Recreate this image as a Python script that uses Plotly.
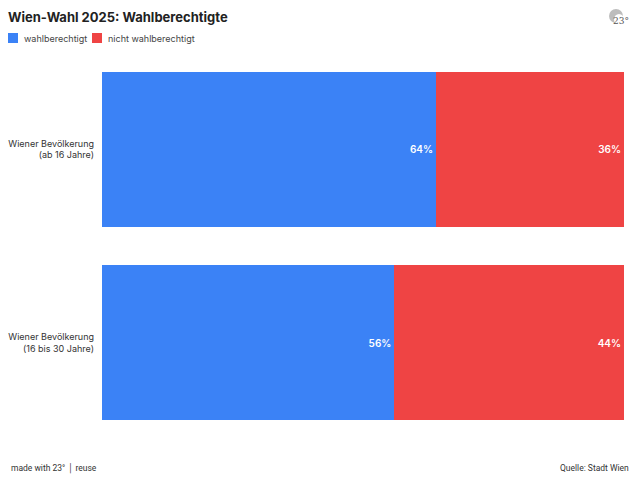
import plotly.graph_objects as go

categories = ["Wiener Bevölkerung<br>(ab 16 Jahre)", "Wiener Bevölkerung<br>(16 bis 30 Jahre)"]
series_names = ["wahlberechtigt", "nicht wahlberechtigt"]
wahlberechtigt = [64, 56]
nicht_wahlberechtigt = [36, 44]
colors = ["#3b82f6", "#ef4444"]

W, H = 640, 480
L, R, T, B = 102, 16, 72, 60
PW, PH = W - L - R, H - T - B

def px(x):
    return (x - L) / PW

def py(y):
    return 1 - (y - T) / PH

def tf():
    return dict(color="white", size=10, family="Inter", weight=600)

fig = go.Figure()
for name, vals, col in zip(series_names, [wahlberechtigt, nicht_wahlberechtigt], colors):
    fig.add_trace(go.Bar(
        y=categories, x=vals, orientation="h", name=name,
        marker=dict(color=col, line=dict(width=0)),
        text=[f"{v}%" for v in vals], textposition="inside", insidetextanchor="end",
        textfont=tf(), hoverinfo="skip", showlegend=False,
    ))

# legend drawn manually (squares + labels)
shapes = []
annotations = []
legend_items = [(8, 22), (92, 106)]
for (sq_x, tx_x), name, col in zip(legend_items, series_names, colors):
    shapes.append(dict(type="rect", xref="paper", yref="paper",
                       x0=px(sq_x), x1=px(sq_x + 10), y0=py(43), y1=py(33),
                       fillcolor=col, line=dict(width=0)))
    annotations.append(dict(text=name, xref="paper", yref="paper", x=px(tx_x), y=py(38.5),
                            xanchor="left", yanchor="middle", showarrow=False,
                            font=dict(size=9, color="#444444", family="Inter")))

# logo approximation
shapes.append(dict(type="circle", xref="paper", yref="paper",
                   x0=px(609), x1=px(623), y0=py(23), y1=py(9),
                   fillcolor="#bdbdbd", line=dict(width=0)))
shapes.append(dict(type="circle", xref="paper", yref="paper",
                   x0=px(614), x1=px(624), y0=py(25), y1=py(14),
                   fillcolor="white", line=dict(width=0)))
annotations.append(dict(text="23°", xref="paper", yref="paper", x=px(631), y=py(21),
                        xanchor="right", yanchor="middle", showarrow=False,
                        font=dict(size=9, color="#555555", family="DejaVu Serif")))

annotations.append(dict(text="made with 23° │ reuse", xref="paper", yref="paper", x=px(9), y=py(468),
                        xanchor="left", yanchor="middle", showarrow=False,
                        font=dict(size=8.5, color="#333333", family="Roboto")))
annotations.append(dict(text="Quelle: Stadt Wien", xref="paper", yref="paper", x=px(631), y=py(468),
                        xanchor="right", yanchor="middle", showarrow=False,
                        font=dict(size=8.5, color="#333333", family="Roboto")))

fig.update_layout(
    width=W, height=H,
    barmode="stack", bargap=0.2,
    paper_bgcolor="white", plot_bgcolor="white",
    margin=dict(l=L, r=R, t=T, b=B, autoexpand=False),
    font=dict(family="Inter", size=9, color="#333333"),
    title=dict(text="<b>Wien-Wahl 2025: Wahlberechtigte</b>", x=8 / W, xanchor="left",
               y=1 - 17 / H, yanchor="middle", font=dict(size=13, color="#222222", family="Inter")),
    showlegend=False,
    xaxis=dict(range=[0, 100], visible=False, fixedrange=True),
    yaxis=dict(range=[1.4, -0.4], showgrid=False, zeroline=False, showline=False,
               ticks="", ticklen=0, automargin=False, ticklabelstandoff=7,
               tickfont=dict(size=9, color="#333333", family="Inter"), fixedrange=True),
    shapes=shapes,
    annotations=annotations,
)

fig.write_html("out.html", config={"displayModeBar": False},
               post_script="document.body.style.margin='0';")
